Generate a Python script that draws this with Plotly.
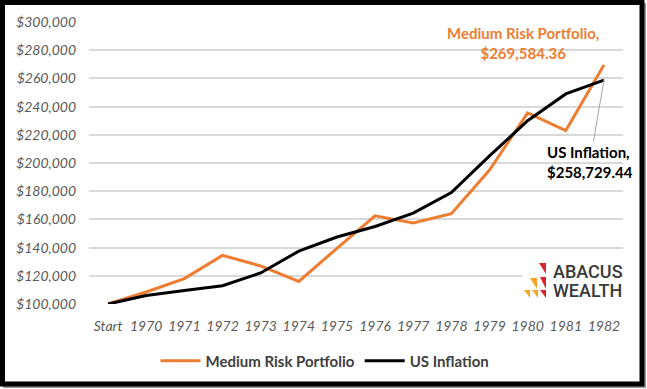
import plotly.graph_objects as go

categories = ["Start", "1970", "1971", "1972", "1973", "1974", "1975", "1976",
              "1977", "1978", "1979", "1980", "1981", "1982"]
medium_risk = [100000, 108500, 118000, 134500, 127000, 116000, 139500, 162500,
               157500, 164000, 195000, 235500, 223000, 269584.36]
us_inflation = [100000, 106000, 109500, 113000, 122000, 137500, 147500, 155000,
                164500, 179000, 205000, 230000, 249000, 258729.44]
y_ticks = [100000, 120000, 140000, 160000, 180000, 200000, 220000, 240000,
           260000, 280000, 300000]
y_tick_labels = ["${:,.0f}".format(v) for v in y_ticks]

W, H = 647, 389
L, R, T, B = 89, 24, 22, 85
PW, PH = W - L - R, H - T - B

def px(x):
    return (x - L) / PW

def py(y):
    return (H - B - y) / PH

ORANGE = "#ED7D31"
FONT = "Lato, Carlito, Calibri, sans-serif"
last = len(categories) - 1

fig = go.Figure()
fig.add_trace(go.Scatter(x=categories, y=medium_risk, mode="lines",
                         name="Medium Risk Portfolio",
                         line=dict(color=ORANGE, width=3)))
fig.add_trace(go.Scatter(x=categories, y=us_inflation, mode="lines",
                         name="US Inflation",
                         line=dict(color="#000000", width=3)))

tickfont = dict(family=FONT, size=14, color="#595959", style="italic")

fig.update_layout(
    width=W, height=H,
    margin=dict(l=L, r=R, t=T, b=B, autoexpand=False),
    paper_bgcolor="white", plot_bgcolor="white",
    showlegend=True,
    legend=dict(orientation="h", x=px(325), y=py(361), xanchor="center",
                yanchor="middle",
                font=dict(family=FONT, size=15, color="#404040", weight="bold"),
                itemwidth=40, tracegroupgap=0),
    xaxis=dict(type="category", range=[-0.5, 13.5], showgrid=False,
               zeroline=False, showline=False, ticks="", tickfont=tickfont,
               ticklabelstandoff=12),
    yaxis=dict(range=[100000, 300000], tickvals=y_ticks, ticktext=y_tick_labels,
               showgrid=True, gridcolor="#D9D9D9", gridwidth=1.5,
               zeroline=False, showline=False, ticks="", tickfont=tickfont,
               ticklabelstandoff=12),
)

# Data labels
fig.add_annotation(x=last, y=medium_risk[last], xref="x", yref="y",
                   text="Medium Risk Portfolio,<br>${:,.2f}".format(medium_risk[last]),
                   showarrow=False, xshift=-81, yshift=22,
                   font=dict(family=FONT, size=15, color=ORANGE, weight="bold"),
                   align="center")
fig.add_annotation(x=last, y=us_inflation[last], xref="x", yref="y",
                   text="US Inflation,<br>${:,.2f}".format(us_inflation[last]),
                   showarrow=True, arrowhead=0, arrowwidth=1, arrowcolor="#A6A6A6",
                   ax=-14, ay=82, standoff=0,
                   font=dict(family=FONT, size=15, color="#000000", weight="bold"),
                   align="left")

# Logo
fig.add_shape(type="rect", xref="paper", yref="paper",
              x0=px(522), x1=px(620), y0=py(262), y1=py(300),
              fillcolor="white", line=dict(width=0), layer="above")
def tri(x0, x1, y0, y1, color):
    path = "M {} {} L {} {} L {} {} Z".format(px(x0), py(y0), px(x1), py(y0), px(x1), py(y1))
    fig.add_shape(type="path", xref="paper", yref="paper", path=path,
                  fillcolor=color, line=dict(width=0), layer="above")
RED, LOR = "#D7262E", "#F5A623"
tri(539, 546, 263, 274, RED)
tri(530, 537, 278, 289, LOR)
tri(540, 546, 277, 289, RED)
tri(524, 530, 290, 298, LOR)
tri(532, 538, 290, 298, LOR)
tri(540, 546, 290, 298, RED)
LOGOFONT = dict(family="Roboto, sans-serif", size=18, color="#3A3A3A", weight=500)
fig.add_annotation(x=px(551), y=py(271), xref="paper", yref="paper",
                   text="ABACUS", showarrow=False, xanchor="left", yanchor="middle",
                   font=LOGOFONT)
fig.add_annotation(x=px(551), y=py(290), xref="paper", yref="paper",
                   text="WEALTH", showarrow=False, xanchor="left", yanchor="middle",
                   font=LOGOFONT)

# Outer border with shadow
fig.add_shape(type="rect", xref="paper", yref="paper",
              x0=px(4), x1=px(645), y0=py(4), y1=py(387),
              line=dict(color="#9A9A9A", width=2), layer="above")
fig.add_shape(type="rect", xref="paper", yref="paper",
              x0=px(2.5), x1=px(642), y0=py(2.5), y1=py(384),
              line=dict(color="#000000", width=5), layer="above")

fig.write_html("out.html", config={"displayModeBar": False},
               post_script="document.body.style.margin='0';document.body.style.overflow='hidden';")
